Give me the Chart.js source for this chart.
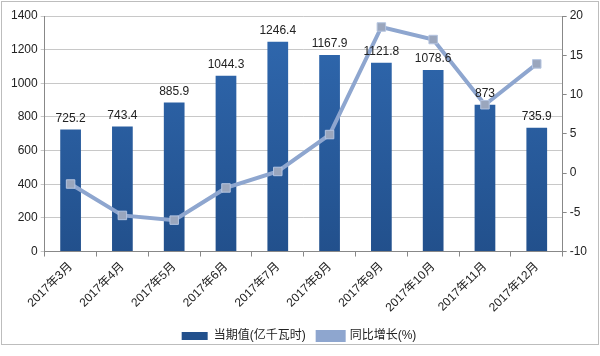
<!DOCTYPE html>
<html><head><meta charset="utf-8">
<script src="https://cdn.jsdelivr.net/npm/chart.js@4/dist/chart.umd.min.js"></script>
<style>html,body{margin:0;padding:0;background:#fff}#wrap{position:relative;width:600px;height:356px}
#wrap:after{content:"";position:absolute;left:1px;top:1px;width:596px;height:342px;border:1px solid #bdbdbd;pointer-events:none}</style>
</head><body><div id="wrap"><canvas id="c" width="600" height="356"></canvas></div>
<script>
const categories = ["2017年3月","2017年4月","2017年5月","2017年6月","2017年7月","2017年8月","2017年9月","2017年10月","2017年11月","2017年12月"];
const currentValues = [725.2,743.4,885.9,1044.3,1246.4,1167.9,1121.8,1078.6,873,735.9];
const growthRates = [-1.4,-5.4,-6.0,-1.9,0.2,4.9,18.6,17.0,8.7,13.9];
const seriesNames = ["当期值(亿千瓦时)","同比增长(%)"];

const FONT = '"Liberation Sans","Noto Sans CJK SC",sans-serif';

const barLabels = {
  id:'barLabels',
  afterDatasetsDraw(chart){
    const ctx = chart.ctx; const meta = chart.getDatasetMeta(0);
    ctx.save(); ctx.font = '12px '+FONT; ctx.fillStyle='#222'; ctx.textAlign='center'; ctx.textBaseline='bottom';
    meta.data.forEach((el,i)=>{ ctx.fillText(String(currentValues[i]), el.x, el.y-5); });
    ctx.restore();
  }
};

new Chart(document.getElementById('c'), {
  data:{
    labels: categories,
    datasets:[
      {type:'bar', label:seriesNames[0], data:currentValues, yAxisID:'y', order:2,
       backgroundColor(ctx){
         const ch=ctx.chart; const a=ch.chartArea; if(!a) return '#2a5c9f';
         const g=ch.ctx.createLinearGradient(0,a.top,0,a.bottom);
         g.addColorStop(0,'#3069b0'); g.addColorStop(1,'#22508c'); return g;
       },
       barPercentage:0.4, categoryPercentage:1.0},
      {type:'line', label:seriesNames[1], data:growthRates, yAxisID:'y1', order:1,
       borderColor:'#8ea6cf', borderWidth:4, backgroundColor:'#8ea6cf',
       pointStyle:'rect', pointRadius:6, pointBackgroundColor:'#9aa6bd', pointBorderColor:'#b4c4e0', pointBorderWidth:1,
       tension:0}
    ]
  },
  options:{
    responsive:false, animation:false,
    layout:{padding:{left:8,right:10,top:16,bottom:4}},
    plugins:{
      legend:{position:'bottom', labels:{font:{family:FONT,size:12}, color:'#222', boxWidth:26, boxHeight:8, padding:12,
              sort:(a,b)=>a.datasetIndex-b.datasetIndex}},
      tooltip:{enabled:false}
    },
    scales:{
      x:{grid:{display:true, drawOnChartArea:false, drawTicks:true, tickLength:5, color:'#888'},
         border:{color:'#888'},
         ticks:{font:{family:FONT,size:12}, color:'#222', maxRotation:45, minRotation:45, padding:3}},
      y:{position:'left', min:0, max:1400, ticks:{stepSize:200, font:{family:FONT,size:12}, color:'#222', callback:v=>String(v)},
         grid:{color:'#c8c8c8', tickLength:4}, border:{color:'#888'}},
      y1:{position:'right', min:-10, max:20, ticks:{stepSize:5, font:{family:FONT,size:12}, color:'#222'},
         grid:{drawOnChartArea:false, tickLength:4, color:'#888'}, border:{color:'#888'}}
    }
  },
  plugins:[barLabels]
});
</script></body></html>
